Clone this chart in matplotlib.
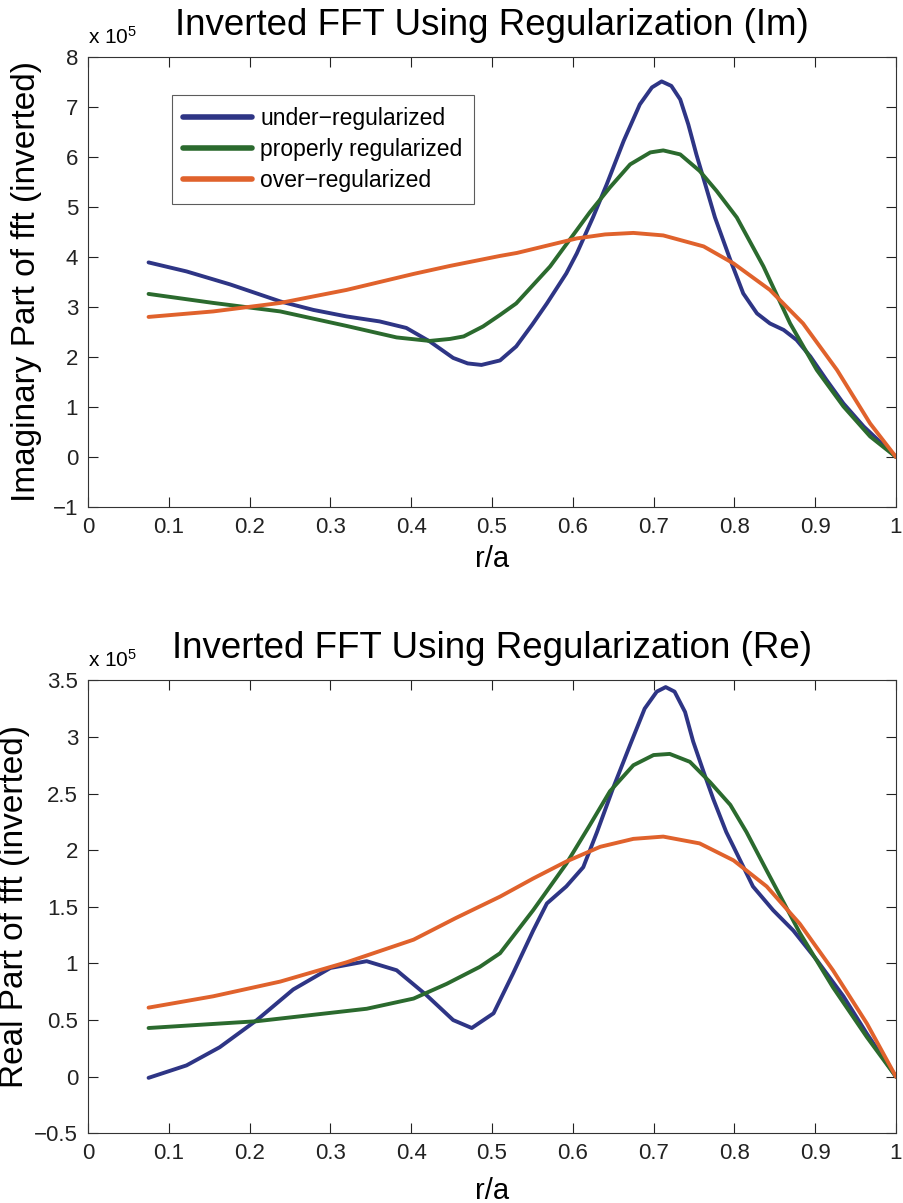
import matplotlib
matplotlib.use("Agg")
import matplotlib.pyplot as plt

plt.rcParams['font.family'] = ['Liberation Sans', 'DejaVu Sans']
plt.rcParams['mathtext.fontset'] = 'custom'
plt.rcParams['mathtext.rm'] = 'Liberation Sans'
plt.rcParams['mathtext.it'] = 'Liberation Sans'
plt.rcParams['axes.unicode_minus'] = True

# Imaginary part (units of 1e5)
r_im_under = [0.075, 0.122, 0.176, 0.238, 0.279, 0.320, 0.361, 0.394, 0.423, 0.452, 0.470,
              0.487, 0.510, 0.530, 0.550, 0.568, 0.592, 0.605, 0.625, 0.642, 0.663, 0.683,
              0.698, 0.710, 0.722, 0.733, 0.743, 0.753, 0.764, 0.776, 0.795, 0.811, 0.828,
              0.844, 0.861, 0.877, 0.894, 0.914, 0.935, 0.960, 1.000]
im_under = [3.89, 3.71, 3.45, 3.11, 2.94, 2.81, 2.71, 2.58, 2.31, 1.98, 1.87,
            1.84, 1.93, 2.21, 2.65, 3.07, 3.67, 4.07, 4.79, 5.45, 6.32, 7.05,
            7.39, 7.51, 7.42, 7.15, 6.65, 6.05, 5.45, 4.79, 3.94, 3.27, 2.87,
            2.67, 2.54, 2.34, 2.01, 1.54, 1.07, 0.61, 0.00]

r_im_proper = [0.075, 0.155, 0.238, 0.320, 0.382, 0.423, 0.448, 0.465, 0.489, 0.510, 0.530,
               0.572, 0.621, 0.646, 0.671, 0.696, 0.712, 0.733, 0.757, 0.778, 0.803, 0.836,
               0.869, 0.902, 0.935, 0.968, 1.000]
im_proper = [3.26, 3.08, 2.91, 2.62, 2.39, 2.32, 2.36, 2.41, 2.61, 2.84, 3.07,
             3.81, 4.89, 5.39, 5.85, 6.09, 6.13, 6.05, 5.72, 5.32, 4.79, 3.81,
             2.67, 1.74, 1.01, 0.41, 0.00]

r_im_over = [0.075, 0.155, 0.238, 0.320, 0.403, 0.448, 0.510, 0.531, 0.605, 0.640, 0.675,
             0.712, 0.762, 0.799, 0.844, 0.885, 0.927, 0.968, 1.000]
im_over = [2.80, 2.91, 3.08, 3.34, 3.66, 3.82, 4.02, 4.08, 4.37, 4.45, 4.48,
           4.43, 4.21, 3.87, 3.34, 2.67, 1.74, 0.67, 0.00]

# Real part (units of 1e5)
r_re_under = [0.075, 0.122, 0.163, 0.209, 0.254, 0.300, 0.345, 0.382, 0.419, 0.452, 0.475,
              0.502, 0.526, 0.551, 0.568, 0.592, 0.613, 0.630, 0.650, 0.671, 0.689, 0.704,
              0.715, 0.726, 0.739, 0.749, 0.762, 0.774, 0.790, 0.799, 0.823, 0.848, 0.873,
              0.902, 0.935, 0.964, 1.000]
re_under = [-0.01, 0.10, 0.26, 0.50, 0.77, 0.96, 1.02, 0.94, 0.72, 0.50, 0.43,
            0.56, 0.91, 1.29, 1.53, 1.68, 1.85, 2.16, 2.55, 2.93, 3.25, 3.40,
            3.44, 3.40, 3.22, 2.96, 2.69, 2.45, 2.16, 2.03, 1.68, 1.47, 1.29,
            1.03, 0.71, 0.38, 0.00]

r_re_proper = [0.075, 0.209, 0.345, 0.403, 0.444, 0.485, 0.510, 0.551, 0.592, 0.621, 0.646,
               0.675, 0.700, 0.720, 0.745, 0.770, 0.795, 0.815, 0.840, 0.881, 0.922, 0.964,
               1.000]
re_proper = [0.43, 0.49, 0.60, 0.69, 0.82, 0.97, 1.09, 1.47, 1.88, 2.22, 2.52,
             2.75, 2.84, 2.85, 2.78, 2.60, 2.40, 2.16, 1.82, 1.27, 0.79, 0.35,
             0.00]

r_re_over = [0.075, 0.155, 0.238, 0.320, 0.403, 0.455, 0.510, 0.551, 0.592, 0.634, 0.675,
             0.712, 0.757, 0.799, 0.840, 0.881, 0.922, 0.964, 1.000]
re_over = [0.61, 0.71, 0.84, 1.01, 1.21, 1.40, 1.59, 1.75, 1.90, 2.03, 2.10,
           2.12, 2.06, 1.91, 1.68, 1.35, 0.94, 0.47, 0.00]

labels = ['under\u2212regularized', 'properly regularized', 'over\u2212regularized']
colors = ['#2e3585', '#2b6a2e', '#e0622c']

x_ticks = [0, 0.1, 0.2, 0.3, 0.4, 0.5, 0.6, 0.7, 0.8, 0.9, 1]
x_ticklabels = ['0', '0.1', '0.2', '0.3', '0.4', '0.5', '0.6', '0.7', '0.8', '0.9', '1']
im_yticks = [-1, 0, 1, 2, 3, 4, 5, 6, 7, 8]
re_yticks = [-0.5, 0, 0.5, 1, 1.5, 2, 2.5, 3, 3.5]
re_yticklabels = ['\u22120.5', '0', '0.5', '1', '1.5', '2', '2.5', '3', '3.5']

fig = plt.figure(figsize=(9.04, 12.03), dpi=100)
ax1 = fig.add_axes([0.0973, 0.5786, 0.8938, 0.3741])
ax2 = fig.add_axes([0.0973, 0.0579, 0.8938, 0.3766])


def style_axes(ax):
    ax.set_xlim(0, 1)
    ax.set_xticks(x_ticks)
    ax.set_xticklabels(x_ticklabels)
    ax.tick_params(direction='in', top=True, right=True, length=7, width=0.8,
                   labelsize=16, pad=7, colors='#222222')
    for s in ax.spines.values():
        s.set_linewidth(0.8)
        s.set_color('#333333')


lw = 2.8
kw = dict(lw=lw, solid_joinstyle='round', solid_capstyle='round')
ax1.plot(r_im_under, im_under, color=colors[0], label=labels[0], **kw)
ax1.plot(r_im_proper, im_proper, color=colors[1], label=labels[1], **kw)
ax1.plot(r_im_over, im_over, color=colors[2], label=labels[2], **kw)
style_axes(ax1)
ax1.set_ylim(-1, 8)
ax1.set_yticks(im_yticks)
ax1.set_title('Inverted FFT Using Regularization (Im)', fontsize=26.5, pad=16)
ax1.set_xlabel('r/a', fontsize=21)
ax1.set_ylabel('Imaginary Part of fft (inverted)', fontsize=24)
ax1.xaxis.set_label_coords(0.5, -0.085)
ax1.yaxis.set_label_coords(-0.057, 0.5)
ax1.text(0.0, 1.02, r'x 10$^{5}$', transform=ax1.transAxes, fontsize=15, ha='left', va='bottom')
leg = ax1.legend(loc='upper left', bbox_to_anchor=(0.104, 0.915), fontsize=16.5, frameon=True,
                 fancybox=False, edgecolor='#333333', handlelength=3.0, handletextpad=0.35,
                 labelspacing=0.36, borderpad=0.5, borderaxespad=0)
leg.get_frame().set_linewidth(0.8)
for h in leg.get_lines():
    h.set_linewidth(4)

ax2.plot(r_re_under, re_under, color=colors[0], **kw)
ax2.plot(r_re_proper, re_proper, color=colors[1], **kw)
ax2.plot(r_re_over, re_over, color=colors[2], **kw)
style_axes(ax2)
ax2.set_ylim(-0.5, 3.5)
ax2.set_yticks(re_yticks)
ax2.set_yticklabels(re_yticklabels)
ax2.set_title('Inverted FFT Using Regularization (Re)', fontsize=26.5, pad=16)
ax2.set_xlabel('r/a', fontsize=21)
ax2.set_ylabel('Real Part of fft (inverted)', fontsize=24)
ax2.xaxis.set_label_coords(0.5, -0.097)
ax2.yaxis.set_label_coords(-0.072, 0.5)
ax2.text(0.0, 1.02, r'x 10$^{5}$', transform=ax2.transAxes, fontsize=15, ha='left', va='bottom')

fig.savefig('out.png', dpi=100)
